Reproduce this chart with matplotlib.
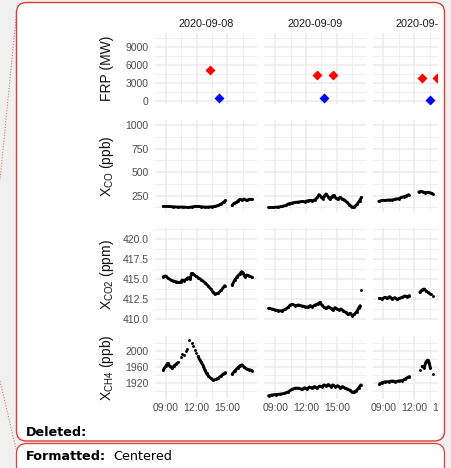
import numpy as np
import matplotlib
matplotlib.use("Agg")
import matplotlib.pyplot as plt
from matplotlib.patches import FancyBboxPatch, Rectangle
from matplotlib.lines import Line2D
from matplotlib.ticker import FixedLocator, NullFormatter, FuncFormatter

plt.rcParams["font.family"] = ["Liberation Sans", "DejaVu Sans"]

# ---------------------------------------------------------------- data
dates = ["2020-09-08", "2020-09-09", "2020-09-10"]
hour_ticks = [9, 12, 15]
hour_labels = ["09:00", "12:00", "15:00"]

# fire radiative power (MW) per day: red = fire clusters, blue = nearby source
fire_t = [[13.33], [13.04, 14.68], [12.80, 14.20]]
fire_frp = [[5130], [4310, 4310], [3770, 3800]]
near_t = [[14.13], [13.77], [13.58]]
near_frp = [[440], [440], [160]]

# XCO (ppb); None marks a gap in the record
co_t_0908 = [8.74, 9.23, 9.72, 10.20, 10.69, 11.17, 11.50, 11.82, 12.15, 12.47, 12.80, 13.12,
             13.45, 13.77, 14.10, 14.42, 14.65, 14.81, None, 15.46, 15.65, 15.88, 16.04,
             16.21, 16.43, 16.63, 16.86, 17.11, 17.40]
co_0908 = [136, 136, 132, 129, 129, 125, 129, 136, 136, 132, 129, 129,
           132, 136, 146, 164, 182, 200, None, 146, 168, 179, 196,
           211, 204, 214, 200, 211, 211]
co_t_0909 = [8.35, 8.83, 9.32, 9.64, 10.03, 10.31, 10.62, 10.95, 11.27, 11.60, 11.86, 12.18,
             12.41, 12.63, 12.89, 13.12, 13.28, 13.47, 13.64, 13.80, 13.96, 14.16, 14.35,
             14.52, 14.71, 14.91, 15.10, 15.30, 15.49, 15.72, 15.98, 16.24, 16.47, 16.73,
             16.99, 17.22, 17.41]
co_0909 = [125, 125, 129, 136, 146, 164, 171, 179, 182, 189, 186, 196,
           200, 196, 207, 232, 261, 239, 218, 246, 268, 239, 211,
           239, 254, 225, 211, 232, 218, 207, 182, 154, 129, 132,
           161, 196, 232]
co_t_0910 = [8.54, 8.87, 9.19, 9.52, 9.84, 10.17, 10.49, 10.75, 10.98, 11.20, 11.46, None,
             12.44, 12.66, 12.86, 13.08, 13.34, 13.60, 13.79]
co_0910 = [189, 200, 200, 204, 204, 214, 218, 232, 239, 246, 261, None,
           289, 296, 289, 282, 286, 279, 271]

# XCO2 (ppm)
co2_t_0908 = [8.74, 8.97, 9.23, 9.49, 9.72, 9.94, 10.20, 10.46, 10.59, 10.79, 11.01, 11.18,
              11.37, 11.50, 11.66, 11.89, 12.15, 12.47, 12.80, 13.12, 13.38, 13.61, 13.77,
              14.10, 14.42, 14.74, None, 15.46, 15.72, 15.95, 16.21, 16.37, 16.53, 16.69,
              16.86, 17.08, 17.40]
co2_0908 = [415.29, 415.38, 415.08, 414.88, 414.75, 414.67, 414.58, 414.58, 414.88, 414.79,
            415.00, 415.17, 415.00, 415.71, 415.63, 415.38, 415.17, 414.88, 414.54, 414.13,
            413.75, 413.33, 413.13, 413.21, 413.63, 414.17, None, 414.25, 414.88, 415.29,
            415.63, 415.92, 415.71, 415.29, 415.50, 415.42, 415.21]
co2_t_0909 = [8.35, 8.68, 9.00, 9.32, 9.64, 9.97, 10.29, 10.46, 10.68, 10.95, 11.27, 11.60,
              11.92, 12.18, 12.41, 12.63, 12.89, 13.15, 13.38, 13.54, 13.77, 13.96, 14.19,
              14.42, 14.61, 14.84, 15.03, 15.23, 15.42, 15.65, 15.88, 16.08, 16.30, 16.53,
              16.73, 16.96, 17.12, 17.28, None, 17.38]
co2_0909 = [411.33, 411.25, 411.13, 411.04, 411.00, 411.21, 411.46, 411.75, 411.83, 411.67,
            411.75, 411.63, 411.54, 411.46, 411.67, 411.54, 411.75, 411.88, 412.08, 411.75,
            411.46, 411.33, 411.54, 411.33, 411.13, 411.42, 411.25, 411.13, 411.25, 411.00,
            410.83, 410.58, 410.71, 410.42, 410.58, 410.92, 411.33, 411.67, None, 413.63]
co2_t_0910 = [8.61, 8.87, 9.13, 9.36, 9.59, 9.84, 10.10, 10.33, 10.56, 10.82, 11.08, 11.30,
              11.53, None, 12.54, 12.77, 12.96, 13.15, 13.34, 13.60, None, 13.83]
co2_0910 = [412.58, 412.50, 412.71, 412.58, 412.79, 412.50, 412.67, 412.46, 412.58, 412.71,
            412.88, 412.79, 412.92, None, 413.33, 413.63, 413.75, 413.50, 413.33, 413.08,
            None, 412.88]

# XCH4 (ppb)
ch4_t_0908 = [8.74, 8.97, 9.17, 9.40, 9.62, 9.81, 10.01, 10.20, None, 10.45, None, 10.60, None,
              10.75, None, 10.95, None, 11.10, None, 11.27, None, 11.50, None, 11.66, None,
              11.82, None, 11.98, None, 12.15, 12.31, 12.47, 12.64, 12.80, 12.96, 13.12,
              13.35, 13.61, 13.87, 14.10, 14.36, 14.58, 14.81, None, 15.46, 15.72, 15.98,
              16.24, 16.43, 16.63, 16.86, 17.11, 17.40]
ch4_0908 = [1953, 1962, 1970, 1962, 1958, 1964, 1968, 1972, None, 1985, None, 1993, None,
            1990, None, 2000, None, 2005, None, 2029, None, 2020, None, 2012, None,
            2003, None, 1995, None, 1987, 1978, 1972, 1964, 1953, 1945, 1939,
            1933, 1928, 1930, 1933, 1938, 1943, 1947, None, 1943, 1951, 1958,
            1964, 1966, 1960, 1956, 1954, 1952]
ch4_t_0909 = [8.35, 8.68, 9.06, 9.48, 9.90, 10.29, 10.62, 10.95, 11.27, 11.60, 11.86, 12.09,
              12.35, 12.57, 12.83, 13.06, 13.32, 13.54, 13.77, 13.96, 14.19, 14.42, 14.61,
              14.84, 15.10, 15.33, 15.56, 15.82, 16.04, 16.27, 16.47, 16.69, 16.92, 17.12,
              17.35]
ch4_0909 = [1889, 1891, 1892, 1893, 1895, 1899, 1905, 1908, 1908, 1905, 1909, 1906,
            1911, 1908, 1912, 1908, 1913, 1912, 1916, 1914, 1917, 1912, 1916,
            1912, 1914, 1909, 1912, 1908, 1906, 1903, 1898, 1899, 1902, 1908,
            1916]
ch4_t_0910 = [8.61, 8.87, 9.19, 9.52, 9.84, 10.17, 10.49, 10.82, 11.14, 11.53, None,
              12.60, None, 12.77, 12.96, 13.15, 13.31, 13.47, 13.57, None, 13.80]
ch4_0910 = [1918, 1922, 1924, 1924, 1926, 1924, 1926, 1927, 1931, 1937, None,
            1953, None, 1962, 1959, 1974, 1978, 1970, 1958, None, 1943]

series_t = {
    "co": [co_t_0908, co_t_0909, co_t_0910],
    "co2": [co2_t_0908, co2_t_0909, co2_t_0910],
    "ch4": [ch4_t_0908, ch4_t_0909, ch4_t_0910],
}
series_v = {
    "co": [co_0908, co_0909, co_0910],
    "co2": [co2_0908, co2_0909, co2_0910],
    "ch4": [ch4_0908, ch4_0909, ch4_0910],
}

# ---------------------------------------------------------------- layout
W, H = 452, 468
fig = plt.figure(figsize=(W / 100, H / 100), dpi=100)
BG = "#f0f0f0"
RED = "#dc3c3c"
fig.patch.set_facecolor(BG)


def inch(x, y):
    return x / 100, (H - y) / 100


def rbox(x0, y0, x1, y1, **kw):
    xa, yb = inch(x0, y1)
    return FancyBboxPatch((xa, yb), (x1 - x0) / 100, (y1 - y0) / 100,
                          boxstyle="round,pad=0,rounding_size=0.1",
                          transform=fig.dpi_scale_trans, **kw)


# comment balloon background
fig.patches.append(rbox(16.5, 2.5, 444.5, 441, fc="white", ec="none", zorder=-5))
fig.patches.append(rbox(16.5, 443.5, 444.5, 500, fc="white", ec="none", zorder=-5))

col_x = [(155.0, 257.0), (264.3, 366.3), (372.6, 474.6)]
row_y = [(33.3, 103.8), (120.0, 211.7), (228.3, 319.7), (336.0, 399.0)]
xlim = (7.94, 17.88)

row_keys = ["frp", "co", "co2", "ch4"]
ylims = {"frp": (-450, 11200), "co": (80, 1053), "co2": (409.91, 421.34), "ch4": (1881, 2038)}
ymajor = {"frp": [0, 3000, 6000, 9000], "co": [250, 500, 750, 1000],
          "co2": [410.0, 412.5, 415.0, 417.5, 420.0], "ch4": [1920, 1960, 2000]}
yminor = {"frp": [1500, 4500, 7500, 10500], "co": [125, 375, 625, 875],
          "co2": [411.25, 413.75, 416.25, 418.75, 421.25], "ch4": [1900, 1940, 1980, 2020]}
yfmt = {"frp": "{:.0f}", "co": "{:.0f}", "co2": "{:.1f}", "ch4": "{:.0f}"}
ytitles = ["FRP (MW)", r"X$_\mathregular{CO}$ (ppb)", r"X$_\mathregular{CO2}$ (ppm)",
           r"X$_\mathregular{CH4}$ (ppb)"]

GRID = "#ebebeb"
TICKC = "#4d4d4d"

for r, key in enumerate(row_keys):
    y0, y1 = row_y[r]
    for c in range(3):
        x0, x1 = col_x[c]
        ax = fig.add_axes([x0 / W, 1 - y1 / H, (x1 - x0) / W, (y1 - y0) / H])
        ax.set_facecolor("white")
        for s in ax.spines.values():
            s.set_visible(False)
        ax.set_xlim(*xlim)
        ax.set_ylim(*ylims[key])
        ax.xaxis.set_major_locator(FixedLocator(hour_ticks))
        ax.xaxis.set_minor_locator(FixedLocator([7.5, 10.5, 13.5, 16.5]))
        ax.yaxis.set_major_locator(FixedLocator(ymajor[key]))
        ax.yaxis.set_minor_locator(FixedLocator(yminor[key]))
        ax.grid(True, which="major", color=GRID, lw=1.1)
        ax.grid(True, which="minor", color=GRID, lw=0.55)
        ax.set_axisbelow(True)
        ax.tick_params(which="both", length=0, labelsize=7.5, labelcolor=TICKC)
        ax.tick_params(axis="y", pad=4.7)
        ax.tick_params(axis="x", pad=3.0)
        if r == 3:
            ax.set_xticklabels(hour_labels)
        else:
            ax.xaxis.set_major_formatter(NullFormatter())
        if c == 0:
            f = yfmt[key]
            ax.yaxis.set_major_formatter(FuncFormatter(lambda v, p, f=f: f.format(v)))
        else:
            ax.yaxis.set_major_formatter(NullFormatter())

        if key == "frp":
            ax.plot(fire_t[c], fire_frp[c], ls="none", marker="D", ms=4.6,
                    color="#ff0000", mec="none")
            ax.plot(near_t[c], near_frp[c], ls="none", marker="D", ms=4.6,
                    color="#0000ff", mec="none")
        else:
            t = np.array(series_t[key][c], dtype=float)
            v = np.array(series_v[key][c], dtype=float)
            ax.plot(t, v, color="black", lw=2.1, marker="o", ms=2.1, mec="none",
                    solid_capstyle="round")

    # row title
    fig.text(107 / W, 1 - (y0 + y1) / 2 / H, ytitles[r], rotation=90, ha="center",
             va="center", fontsize=10, color="#111111")

for c in range(3):
    x0, x1 = col_x[c]
    fig.text((x0 + x1) / 2 / W, 1 - 23.7 / H, dates[c], ha="center", va="center",
             fontsize=7.8, color="#1a1a1a")

# the balloon crops the right-hand panel
fig.patches.append(Rectangle(inch(437.5, 435), 7.0 / 100, 427 / 100,
                             transform=fig.dpi_scale_trans, fc="white", ec="none", zorder=8))
fig.patches.append(Rectangle(inch(445.0, 470), 10 / 100, 472 / 100,
                             transform=fig.dpi_scale_trans, fc=BG, ec="none", zorder=8))

# balloon outlines
fig.patches.append(rbox(16.5, 2.5, 444.5, 441, fc="none", ec=RED, lw=1.0, zorder=10))
fig.patches.append(rbox(16.5, 443.5, 444.5, 500, fc="none", ec=RED, lw=0.9, zorder=10))

# dotted connector lines
for (xa, ya), (xb, yb) in [((16.5, 13.5), (0, 180)), ((0, 381), (16.5, 451))]:
    pa, pb = inch(xa, ya), inch(xb, yb)
    fig.lines.append(Line2D([pa[0], pb[0]], [pa[1], pb[1]], transform=fig.dpi_scale_trans,
                            color="#e07a7a", lw=0.8, ls=(0, (1, 1.5)), zorder=9))

fig.text(26 / W, 1 - 432.5 / H, "Deleted:", ha="left", va="center", fontsize=9.2,
         fontweight="bold", family="DejaVu Sans", color="black", zorder=11)
fig.text(26 / W, 1 - 457 / H, "Formatted:", ha="left", va="center", fontsize=9.2,
         fontweight="bold", family="DejaVu Sans", color="black", zorder=11)
fig.text(113.5 / W, 1 - 457 / H, "Centered", ha="left", va="center", fontsize=9.2,
         family="DejaVu Sans", color="black", zorder=11)

fig.savefig("out.png", dpi=100, facecolor=fig.get_facecolor())
